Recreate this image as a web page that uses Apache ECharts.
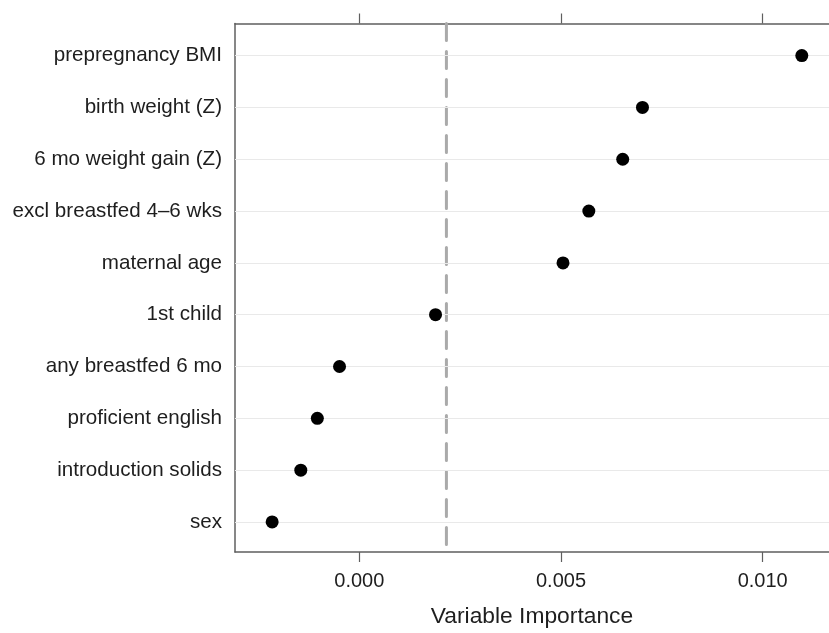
<!DOCTYPE html>
<html>
<head>
<meta charset="utf-8">
<script src="https://cdn.jsdelivr.net/npm/echarts@6/dist/echarts.min.js"></script>
<style>
html,body{margin:0;padding:0;background:#fff;}
#chart{width:829px;height:633px;}
</style>
</head>
<body>
<div id="chart"></div>
<script>
const categories = ["prepregnancy BMI","birth weight (Z)","6 mo weight gain (Z)","excl breastfed 4\u20136 wks","maternal age","1st child","any breastfed 6 mo","proficient english","introduction solids","sex"];
const importance = [0.01097, 0.00702, 0.00653, 0.00569, 0.00505, 0.00189, -0.00049, -0.00104, -0.00145, -0.00216];
const threshold = 0.00216;
const xTicks = [0, 0.005, 0.010];
const xTitle = "Variable Importance";

const FONT = "Liberation Sans, Arial, Helvetica, sans-serif";
const chart = echarts.init(document.getElementById('chart'), null, {renderer:'canvas'});
const axisCol = '#5f5f5f';
const idx = categories.map((c,i)=>i);
const yMin = -0.62, yMax = 9.58;

chart.setOption({
  animation:false,
  backgroundColor:'#fff',
  grid:{left:235, right:0, top:23.5, bottom:80, containLabel:false},
  xAxis:[{
    type:'value', position:'bottom', min:-0.003081, max:0.011644,
    axisLine:{show:true, onZero:false, lineStyle:{color:axisCol, width:1.5}},
    axisTick:{show:true, inside:false, length:10, customValues:xTicks, lineStyle:{color:axisCol, width:1.2}},
    axisLabel:{show:true, customValues:xTicks, margin:19, fontSize:20, color:'#1e1e1e', fontFamily:FONT,
      formatter:v=>Number(v).toFixed(3)},
    splitLine:{show:false},
    name:xTitle, nameLocation:'middle', nameGap:53,
    nameTextStyle:{fontSize:22.8, color:'#1e1e1e', fontFamily:FONT}
  },{
    type:'value', position:'top', min:-0.003081, max:0.011644,
    axisLine:{show:true, onZero:false, lineStyle:{color:axisCol, width:1.5}},
    axisTick:{show:true, inside:false, length:10, customValues:xTicks, lineStyle:{color:axisCol, width:1.2}},
    axisLabel:{show:false},
    splitLine:{show:false}
  }],
  yAxis:{
    type:'value', min:yMin, max:yMax, inverse:true,
    axisLine:{show:true, onZero:false, lineStyle:{color:axisCol, width:1.5}},
    axisTick:{show:false},
    axisLabel:{show:true, customValues:idx, margin:13, fontSize:20.6, color:'#1e1e1e', fontFamily:FONT,
      formatter:v=>categories[Math.round(v)] || ''},
    splitLine:{show:false}
  },
  series:[{
    type:'scatter', data:[], z:1, silent:true,
    markLine:{
      silent:true, symbol:['none','none'], animation:false,
      label:{show:false},
      lineStyle:{color:'#e9e9e9', width:1, type:'solid'},
      data: idx.map(i=>({yAxis:i}))
    }
  },{
    type:'line', z:2, silent:true, symbol:'none',
    lineStyle:{color:'#aaaaaa', width:3, type:[17,11], cap:'round'},
    data:[[threshold, yMin],[threshold, yMax]]
  },{
    type:'scatter', z:5, symbol:'circle', symbolSize:13,
    itemStyle:{color:'#000', opacity:1},
    data: importance.map((v,i)=>[v,i])
  }]
});
</script>
</body>
</html>
